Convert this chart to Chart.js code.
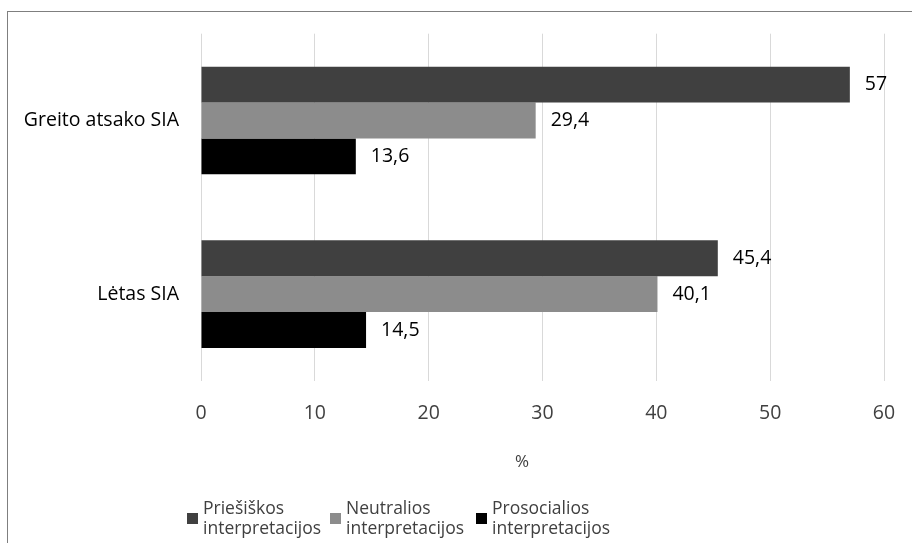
<!DOCTYPE html>
<html>
<head>
<meta charset="utf-8">
<script src="https://cdn.jsdelivr.net/npm/chart.js@4"></script>
<style>
  html, body { margin: 0; padding: 0; background: #fff; }
  body { width: 912px; height: 543px; position: relative; overflow: hidden; font-family: "Open Sans", sans-serif; }
  #frame { position: absolute; left: 7px; top: 11px; width: 930px; height: 560px; border: 1px solid #7f7f7f; }
  #wrap { position: absolute; left: 0; top: 0; width: 912px; height: 543px; }
  .legend { position: absolute; top: 497px; color: #404040; font-size: 17.5px; line-height: 20px; }
  .legend span.box { position: absolute; left: -16px; top: 16px; width: 11px; height: 11px; }
</style>
</head>
<body>
<div id="frame"></div>
<div id="wrap"><canvas id="chart" width="912" height="543"></canvas></div>
<div id="legend"></div>
<script>
// categories (top to bottom)
const categories = ['Greito atsako SIA', 'Lėtas SIA'];

// series
const seriesNames = [
  ['Priešiškos', 'interpretacijos'],
  ['Neutralios', 'interpretacijos'],
  ['Prosocialios', 'interpretacijos'],
];
const hostile = [57, 45.4];
const neutral = [29.4, 40.1];
const prosocial = [13.6, 14.5];

const colors = ['#404040', '#8c8c8c', '#000000'];
const xTicks = [0, 10, 20, 30, 40, 50, 60];

const fmt = (v) => String(v).replace('.', ',');

// value labels at the end of each bar
const valueLabels = {
  id: 'valueLabels',
  afterDatasetsDraw(chart) {
    const ctx = chart.ctx;
    ctx.save();
    ctx.font = '19.5px "Open Sans"';
    ctx.fillStyle = '#000';
    ctx.textBaseline = 'middle';
    ctx.textAlign = 'left';
    chart.data.datasets.forEach((ds, i) => {
      chart.getDatasetMeta(i).data.forEach((bar, j) => {
        ctx.fillText(fmt(ds.data[j]), bar.x + 15, bar.y);
      });
    });
    // axis title, slightly left of centre like the original
    const a = chart.chartArea;
    ctx.fillStyle = '#404040';
    ctx.font = '17px "Open Sans"';
    ctx.textAlign = 'center';
    ctx.fillText('%', a.left + (a.right - a.left) * 0.47, 462);
    ctx.restore();
  }
};

new Chart(document.getElementById('chart'), {
  type: 'bar',
  data: {
    labels: categories,
    datasets: [
      { label: seriesNames[0].join(' '), data: hostile, backgroundColor: colors[0] },
      { label: seriesNames[1].join(' '), data: neutral, backgroundColor: colors[1] },
      { label: seriesNames[2].join(' '), data: prosocial, backgroundColor: colors[2] },
    ],
  },
  options: {
    indexAxis: 'y',
    responsive: false,
    animation: false,
    layout: { padding: { top: 29, right: 28, left: 0, bottom: 0 } },
    datasets: { bar: { categoryPercentage: 0.62, barPercentage: 1 } },
    plugins: { legend: { display: false }, tooltip: { enabled: false } },
    scales: {
      x: {
        min: 0,
        max: 60,
        afterBuildTicks: (s) => { s.ticks = xTicks.map((v) => ({ value: v })); },
        afterFit: (s) => { s.height = 162; s.paddingLeft = 0; s.paddingRight = 0; },
        border: { display: false },
        grid: { color: '#d9d9d9', drawTicks: false },
        ticks: { color: '#404040', font: { family: 'Open Sans', size: 19.5 }, padding: 21 },
      },
      y: {
        afterFit: (s) => { s.width = 201; },
        border: { display: false },
        grid: { display: false, drawTicks: false },
        ticks: { color: '#000', font: { family: 'Open Sans', size: 19.5 }, padding: 22 },
      },
    },
  },
  plugins: [valueLabels],
});

// two-line legend below the plot
const legendX = [203, 346, 492];
const legendEl = document.getElementById('legend');
seriesNames.forEach((lines, i) => {
  const d = document.createElement('div');
  d.className = 'legend';
  d.style.left = legendX[i] + 'px';
  d.innerHTML = '<span class="box" style="background:' + colors[i] + '"></span>' + lines.join('<br>');
  legendEl.appendChild(d);
});
</script>
</body>
</html>
